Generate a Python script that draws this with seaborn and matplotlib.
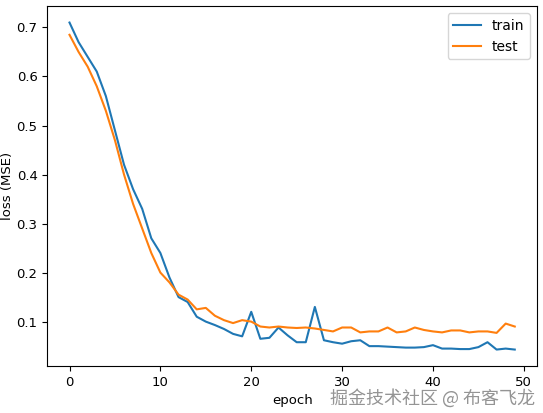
import matplotlib
matplotlib.use("Agg")
import matplotlib.pyplot as plt
import pandas as pd
import seaborn as sns

train = [0.71, 0.67, 0.64, 0.61, 0.56, 0.49, 0.42, 0.37, 0.33, 0.27,
         0.24, 0.19, 0.15, 0.14, 0.11, 0.10, 0.093, 0.085, 0.075,
         0.07, 0.12, 0.065, 0.067, 0.088, 0.072, 0.058, 0.058, 0.13, 0.062,
         0.058, 0.055, 0.06, 0.062, 0.05, 0.05, 0.049, 0.048, 0.047, 0.047,
         0.048, 0.052, 0.045, 0.045, 0.044, 0.044, 0.048, 0.058, 0.043, 0.045, 0.043]
test = [0.685, 0.65, 0.62, 0.58, 0.53, 0.47, 0.40, 0.34, 0.29, 0.24,
        0.20, 0.18, 0.155, 0.145, 0.125, 0.128, 0.112, 0.103, 0.097, 0.103,
        0.1, 0.09, 0.088, 0.09, 0.088, 0.087, 0.088, 0.086, 0.083, 0.08,
        0.088, 0.088, 0.078, 0.08, 0.08, 0.088, 0.078, 0.08, 0.088, 0.083,
        0.08, 0.078, 0.082, 0.082, 0.078, 0.08, 0.08, 0.077, 0.096, 0.09]
epochs = list(range(len(train)))

df = pd.DataFrame({"epoch": epochs * 2, "loss": train + test,
                   "set": ["train"] * len(train) + ["test"] * len(test)})

plt.rcParams['font.family'] = ['DejaVu Sans', 'Noto Sans CJK SC']
plt.rcParams['font.size'] = 9.5
fig, ax = plt.subplots(figsize=(5.43, 4.13), dpi=100)
sns.lineplot(data=df, x="epoch", y="loss", hue="set", ax=ax,
             palette=["#1f77b4", "#ff7f0e"], linewidth=1.5)
ax.set_xlabel("epoch")
ax.set_ylabel("loss (MSE)", labelpad=2)
ax.legend(loc="upper right", fontsize=10)
ax.set_xticks([0, 10, 20, 30, 40, 50])
ax.set_yticks([0.1, 0.2, 0.3, 0.4, 0.5, 0.6, 0.7])

fig.subplots_adjust(left=0.087, right=0.989, top=0.985, bottom=0.114)
fig.text(0.985, 0.035, "掘金技术社区 @ 布客飞龙", ha="right", va="center",
         fontsize=13, color="#888888", alpha=0.9,
         family=['Noto Sans CJK SC', 'DejaVu Sans'])
fig.savefig("out.png", dpi=100)
